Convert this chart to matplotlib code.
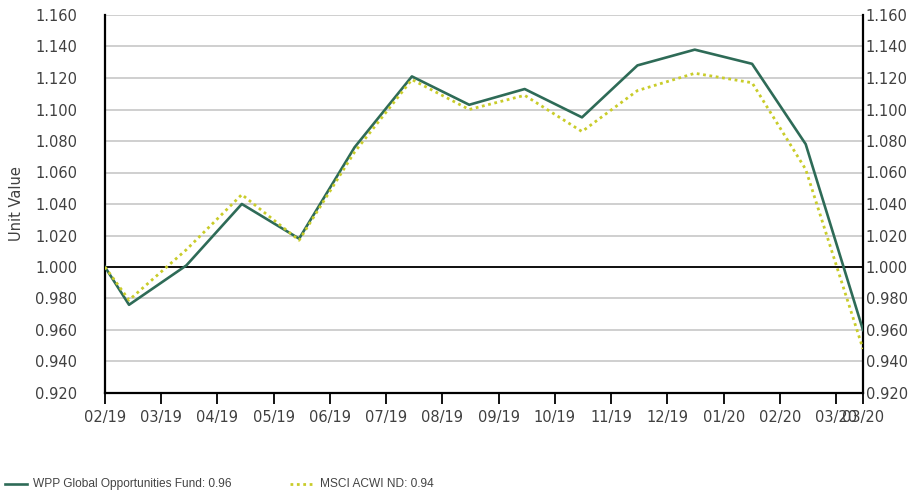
import pandas as pd
import numpy as np
import matplotlib.pyplot as plt
import matplotlib.transforms as mtransforms

# Data
dates = ['2019-02-15', '2019-02-28', '2019-03-31', '2019-04-30', '2019-05-31',
         '2019-06-30', '2019-07-31', '2019-08-31', '2019-09-30', '2019-10-31',
         '2019-11-30', '2019-12-31', '2020-01-31', '2020-02-29', '2020-03-31']
fund = [1.000, 0.976, 1.001, 1.040, 1.018, 1.076, 1.121, 1.103, 1.113, 1.095,
        1.128, 1.138, 1.129, 1.078, 0.960]
index = [1.000, 0.979, 1.011, 1.046, 1.017, 1.073, 1.119, 1.100, 1.109, 1.086,
         1.112, 1.123, 1.117, 1.062, 0.948]
tick_labels = ['02/19', '03/19', '04/19', '05/19', '06/19', '07/19', '08/19',
               '09/19', '10/19', '11/19', '12/19', '01/20', '02/20', '03/20', '03/20']
fund_label = 'WPP Global Opportunities Fund: 0.96'
index_label = 'MSCI ACWI ND: 0.94'

dt = pd.to_datetime(dates)
days = (dt - dt[0]).days.values

fig = plt.figure(figsize=(9.13, 4.95), dpi=100)
ax = fig.add_axes([105 / 913, 1 - 393 / 495, 758 / 913, 378 / 495])

green = '#2e6b57'
yellow = '#c9cc2a'

ax.plot(days, fund, color=green, lw=1.9, zorder=3)
ax.plot(days, index, color=yellow, lw=2.0, ls=(0, (1, 1.3)), zorder=4)
ax.axhline(1.0, color='black', lw=1.3, zorder=2)

ax.set_xlim(0, days[-1])
ax.set_ylim(0.92, 1.16)
yt = np.arange(0.92, 1.1601, 0.02)
ax.set_yticks(yt)
ax.set_yticklabels([f'{v:.3f}' for v in yt])
ax.grid(axis='y', color='#cccccc', lw=1.3, zorder=1)

# evenly spaced monthly ticks plus one at the last date
step = 30.42
xt = list(np.arange(14) * step) + [days[-1]]
ax.set_xticks(xt)
ax.set_xticklabels(tick_labels)

for s in ['left', 'right', 'bottom']:
    ax.spines[s].set_color('black')
    ax.spines[s].set_linewidth(1.6)
ax.spines['top'].set_visible(False)

ax.tick_params(axis='x', direction='out', length=8, width=1.3, color='black',
               labelsize=10.5, labelcolor='#404040', pad=4)
ax.tick_params(axis='y', length=0, labelsize=10.5, labelcolor='#404040', pad=20,
               right=True, labelright=True)

# right labels sit close to the axis
offset = mtransforms.ScaledTranslation(-18 / 72, 0, fig.dpi_scale_trans)
for t in ax.yaxis.get_major_ticks():
    t.label2.set_transform(t.label2.get_transform() + offset)

ax.set_ylabel('Unit Value', fontsize=10.5, color='#404040', labelpad=8)

# legend drawn at the bottom of the figure
leg_font = ['Liberation Sans', 'DejaVu Sans']
ly = 1 - 484 / 495
fig.add_artist(plt.Line2D([5 / 913, 27 / 913], [ly, ly], color=green,
                          lw=1.9, transform=fig.transFigure))
fig.text(33 / 913, ly, fund_label, fontsize=8.6, color='#444444', va='center',
         family=leg_font)
fig.add_artist(plt.Line2D([290 / 913, 312 / 913], [ly, ly], color=yellow,
                          lw=2.0, ls=(0, (1, 1.3)), transform=fig.transFigure))
fig.text(320 / 913, ly, index_label, fontsize=8.6, color='#444444', va='center',
         family=leg_font)

fig.savefig('out.png', dpi=100)
